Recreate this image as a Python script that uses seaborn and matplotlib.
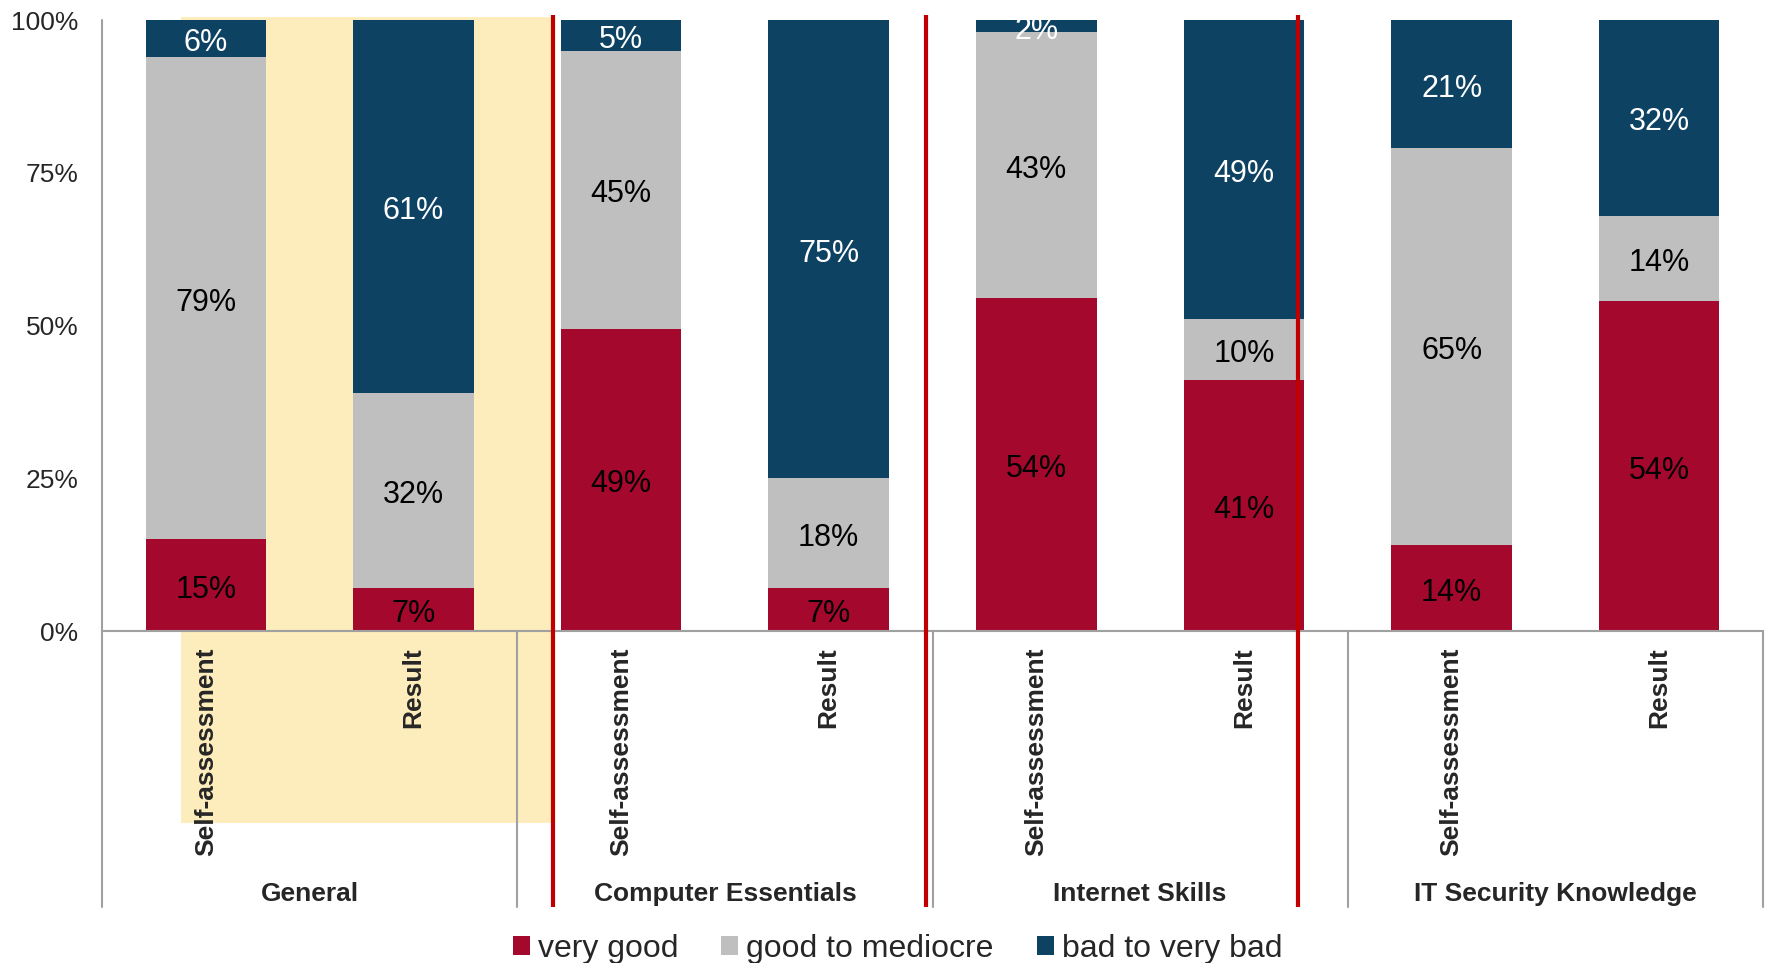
import matplotlib
matplotlib.use("Agg")
import matplotlib.pyplot as plt
import matplotlib.transforms as mtransforms
from matplotlib.patches import Patch, Rectangle
import numpy as np
import pandas as pd
import seaborn as sns

# Survey data: share of respondents per rating, per skill area and source
groups = ["General", "Computer Essentials", "Internet Skills", "IT Security Knowledge"]
sources = ["Self-assessment", "Result"]
very_good = [15, 7, 49, 7, 54, 41, 14, 54]
good_to_mediocre = [79, 32, 45, 18, 43, 10, 65, 14]
bad_to_very_bad = [6, 61, 5, 75, 2, 49, 21, 32]
series_names = ["very good", "good to mediocre", "bad to very bad"]
y_ticks = [0, 0.25, 0.5, 0.75, 1.0]
y_tick_labels = ["0%", "25%", "50%", "75%", "100%"]

colors = ["#A5082D", "#C0BFC0", "#0E4263"]
label_colors = ["black", "black", "white"]
axis_gray = "#A0A0A0"
marker_red = "#C00000"
highlight = "#FEEDBC"

sns.set_theme(style="white")
plt.rcParams["font.family"] = ["Liberation Sans", "DejaVu Sans"]

keys = [f"{g}|{s}" for g in groups for s in sources]
vals = np.array([very_good, good_to_mediocre, bad_to_very_bad], dtype=float)
shares = vals / vals.sum(axis=0)          # 100 % stacked
cum = np.cumsum(shares, axis=0)

df = pd.DataFrame({"key": keys,
                   "c1": cum[0], "c2": cum[1], "c3": cum[2]})

fig = plt.figure(figsize=(17.67, 9.63), dpi=100)
ax = fig.add_axes([102 / 1767, 1 - 631 / 963, (1763 - 102) / 1767, 611 / 963])
ax.patch.set_alpha(0)

# stacked bars: draw cumulative totals from the top layer down
for col, c in zip(["c3", "c2", "c1"], colors[::-1]):
    sns.barplot(data=df, x="key", y=col, order=keys, color=c, width=0.58,
                saturation=1, errorbar=None, ax=ax, zorder=3, linewidth=0)

ax.set_xlim(-0.5, len(keys) - 0.5)
ax.set_ylim(0, 1)
ax.set_xlabel("")
ax.set_ylabel("")
for s in ax.spines.values():
    s.set_visible(False)
ax.grid(False)

ax.set_yticks(y_ticks)
ax.set_yticklabels(y_tick_labels, fontsize=19)
ax.tick_params(axis="y", length=0, pad=17)
ax.set_xticks(range(len(keys)))
ax.set_xticklabels([k.split("|")[1] for k in keys], rotation=90,
                   fontsize=19, fontweight="bold", va="top", ha="center")
ax.tick_params(axis="x", length=0, pad=12)

# value labels in the middle of each segment
label_trans = ax.transData + mtransforms.ScaledTranslation(0, -4.5 / 100, fig.dpi_scale_trans)
bottoms = np.vstack([np.zeros(len(keys)), cum[:-1]])
for si in range(3):
    for i in range(len(keys)):
        yc = bottoms[si, i] + shares[si, i] / 2
        ax.text(i, yc, f"{int(vals[si, i])}%", ha="center", va="center",
                fontsize=22, color=label_colors[si], zorder=5, clip_on=True,
                transform=label_trans)

trans = mtransforms.blended_transform_factory(ax.transData, ax.transAxes)
low = -0.4517

# highlighted "General" block behind bars and labels
ax.add_patch(Rectangle((-0.118, -0.314), 1.663 + 0.118, 1.0049 + 0.314,
                       transform=trans, facecolor=highlight, edgecolor="none",
                       zorder=0, clip_on=False))

# axis lines and group separators
ax.plot([-0.5, len(keys) - 0.5], [0, 0], transform=trans, color=axis_gray,
        lw=1.5, zorder=4, clip_on=False)
ax.plot([-0.5, -0.5], [1, low], transform=trans, color=axis_gray,
        lw=1.5, zorder=4, clip_on=False)
for xs in [1.5, 3.5, 5.5, 7.5]:
    ax.plot([xs, xs], [0, low], transform=trans, color=axis_gray,
            lw=1.5, zorder=4, clip_on=False)

# red divider lines
for xr in [1.672, 3.468, 5.259]:
    ax.plot([xr, xr], [1.0082, low], transform=trans, color=marker_red,
            lw=3, zorder=6, clip_on=False, solid_capstyle="butt")

# group labels
for gi, g in enumerate(groups):
    ax.text(gi * 2 + 0.5, -0.431, g, transform=trans, ha="center",
            va="center", fontsize=19, fontweight="bold", clip_on=False)

handles = [Patch(facecolor=c, edgecolor="none") for c in colors]
fig.legend(handles, series_names, loc="center", bbox_to_anchor=(0.508, 0.0145),
           ncol=3, frameon=False, fontsize=23, handlelength=0.52,
           handleheight=0.52, handletextpad=0.26, columnspacing=1.35,
           borderaxespad=0, borderpad=0)

fig.savefig("out.png", dpi=100)
